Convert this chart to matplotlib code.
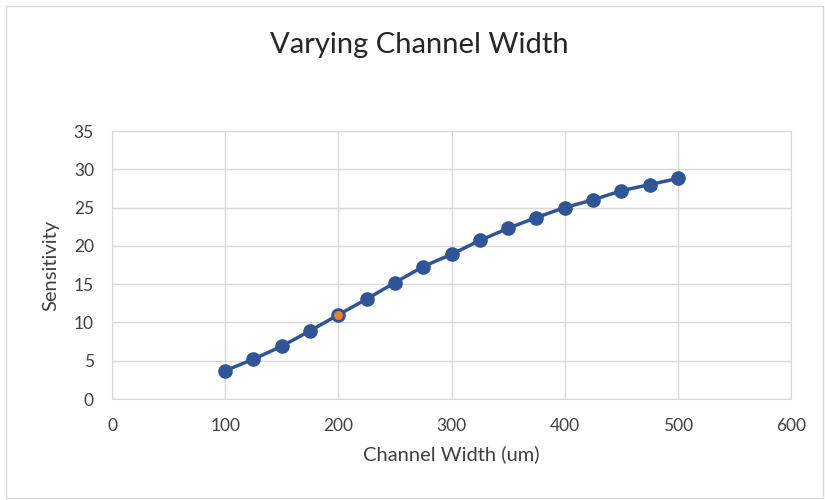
import matplotlib.pyplot as plt
from matplotlib.patches import Rectangle

plt.rcParams['font.family'] = ['Lato', 'DejaVu Sans']

# channel width (um) vs sensitivity
width = [100, 125, 150, 175, 200, 225, 250, 275, 300, 325, 350, 375, 400, 425, 450, 475, 500]
sens = [3.7, 5.2, 6.9, 8.9, 11.0, 13.05, 15.2, 17.3, 18.9, 20.7, 22.3, 23.7, 25.0, 26.0, 27.2, 28.0, 28.8]
highlight = 200

xticks = [0, 100, 200, 300, 400, 500, 600]
yticks = [0, 5, 10, 15, 20, 25, 30, 35]

blue = '#2F5597'
orange = '#ED7D31'
grid = '#D9D9D9'
txt = '#404040'

fig = plt.figure(figsize=(8.25, 5), dpi=100)
ax = fig.add_axes([0.1358, 0.202, 0.823, 0.536])

ax.plot(width, sens, color=blue, lw=2.5, marker='o', ms=9.5, mfc=blue, mec=blue, zorder=3)
hi = width.index(highlight)
ax.plot([width[hi]], [sens[hi]], 'o', ms=8, mfc=orange, mec=blue, mew=1.5, zorder=4)

ax.set_xlim(0, 600)
ax.set_ylim(0, 35)
ax.set_xticks(xticks)
ax.set_yticks(yticks)
ax.grid(True, color=grid, lw=1)
ax.set_axisbelow(True)
for s in ax.spines.values():
    s.set_color(grid)
ax.tick_params(length=0, labelsize=12.5, labelcolor=txt)
ax.tick_params(axis='x', pad=14)
ax.tick_params(axis='y', pad=13)

ax.set_xlabel('Channel Width (um)', fontsize=14.5, color=txt, labelpad=8)
ax.set_ylabel('Sensitivity', fontsize=14.5, color=txt, labelpad=10)
fig.text(0.508, 0.91, 'Varying Channel Width', ha='center', va='center', fontsize=21, color='#262626')

fig.patches.append(Rectangle((0.007, 0.005), 0.99, 0.983, transform=fig.transFigure,
                             fill=False, ec=grid, lw=1))

fig.savefig('out.png', dpi=100)
